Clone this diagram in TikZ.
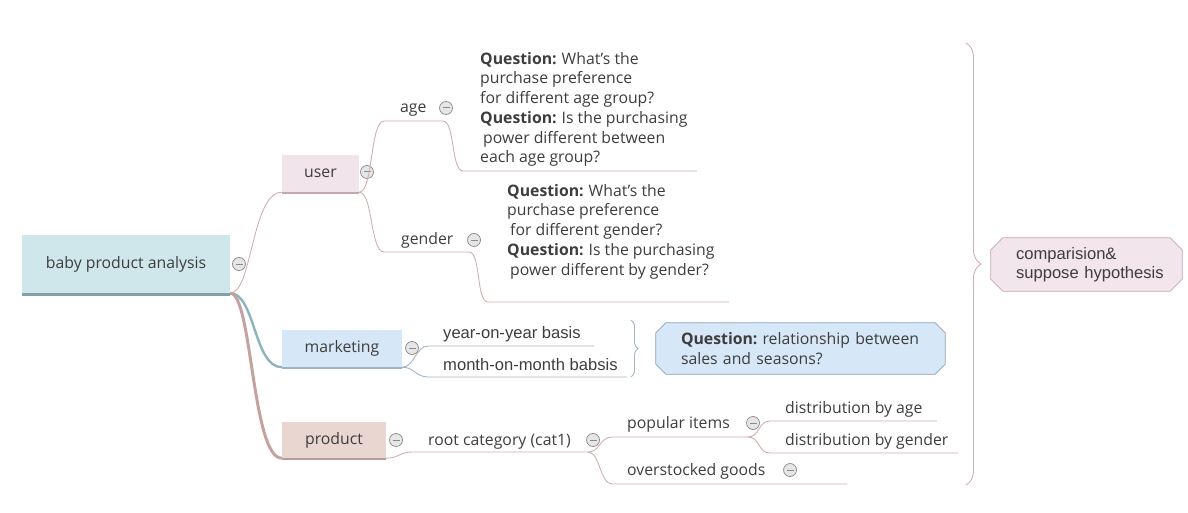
\documentclass[tikz,border=0pt]{standalone}
\usepackage{fontspec}
\setmainfont{Open Sans}
\newfontfamily\arialf{Liberation Sans}
\usetikzlibrary{decorations.pathreplacing,backgrounds}
\definecolor{tc}{HTML}{3D3D3D}
\definecolor{rootfill}{HTML}{CFE6EB}
\definecolor{rootline}{HTML}{7FA3A8}
\definecolor{userfill}{HTML}{F1E4EA}
\definecolor{userline}{HTML}{C2AAB0}
\definecolor{mktfill}{HTML}{D6E8F7}
\definecolor{mktline}{HTML}{9AB5C9}
\definecolor{prodfill}{HTML}{E9D6D1}
\definecolor{prodline}{HTML}{B99D99}
\definecolor{br}{HTML}{D0B0AE}
\definecolor{brd}{HTML}{C3A3A0}
\definecolor{mktbr}{HTML}{8FB3BC}
\definecolor{mu}{HTML}{A4B4C0}
\definecolor{qfill}{HTML}{D6E7F7}
\definecolor{qdraw}{HTML}{8CA2B3}
\definecolor{cfill}{HTML}{F3E5EC}
\definecolor{cdraw}{HTML}{C7A6AD}
\definecolor{icd}{HTML}{8A8A8A}
\definecolor{icf}{HTML}{E6E6E6}
\begin{document}
\begin{tikzpicture}[x=1pt,y=-1pt,
  txt/.style={inner sep=0pt, text=tc, font=\fontsize{15.8}{19.7}\selectfont},
  artxt/.style={inner sep=0pt, text=tc, font=\arialf\fontsize{16.6}{19.5}\selectfont},
  topicbox/.style={txt, minimum height=37pt},
  qtxt/.style={txt, align=left, anchor=north west},
  icon/.style={circle, draw=icd, fill=icf, minimum size=13pt, inner sep=0pt, line width=0.7pt,
    path picture={\draw[icd, line width=1pt] ([xshift=3pt]path picture bounding box.west) -- ([xshift=-3pt]path picture bounding box.east);}},
  branch/.style={draw=br, line width=0.9pt},
  mbranch/.style={draw=mu, line width=0.9pt},
  bracestyle/.style={draw=br, line width=0.9pt, decorate},
]
\useasboundingbox (0,0) rectangle (1188,513);

% main topics
\node[topicbox, fill=rootfill, minimum width=208pt, minimum height=58pt] (root) at (126,264) {baby product analysis};
\node[topicbox, fill=userfill, minimum width=77pt] (user) at (320.5,173.5) {user};
\node[topicbox, fill=mktfill, minimum width=120pt] (mkt) at (342,348.5) {marketing};
\node[topicbox, fill=prodfill, minimum width=104pt, minimum height=36pt] (prod) at (334,440) {product};
\draw[rootline, line width=3pt] ([yshift=-1.5pt]root.south west) -- ([yshift=-1.5pt]root.south east);
\draw[userline, line width=2pt] ([yshift=-1pt]user.south west) -- ([yshift=-1pt]user.south east);
\draw[mktline, line width=2pt] ([yshift=-1pt]mkt.south west) -- ([yshift=-1pt]mkt.south east);
\draw[prodline, line width=2pt] ([yshift=-1pt]prod.south west) -- ([yshift=-1pt]prod.south east);

% icons
\node[icon] (iroot) at (239,264) {};
\node[icon] (iuser) at (367,172) {};
\node[icon] (imkt) at (412,348) {};
\node[icon] (iprod) at (396,440) {};

% user subtree
\node[txt, anchor=base west] (age) at (400,113) {age};
\node[icon] (iage) at (446,108) {};
\node[qtxt] (qage) at (480,52) {\textbf{Question:}\hspace{5pt}What's the\\purchase preference\\for different age group?\\\textbf{Question:}\hspace{5pt}Is the purchasing\\\hspace*{3pt}power different between\\each age group?};
\node[txt, anchor=base west] (gender) at (401,244) {gender};
\node[icon] (igender) at (474,240) {};
\node[qtxt] (qgender) at (507,184) {\textbf{Question:}\hspace{5pt}What's the\\purchase preference\\\hspace*{3pt}for different gender?\\\textbf{Question:}\hspace{5pt}Is the purchasing\\\hspace*{3pt}power different by gender?};

\coordinate (ageL) at (384,121); \coordinate (ageR) at (443,121);
\coordinate (qageL) at (463,171); \coordinate (qageR) at (697,171);
\coordinate (genL) at (384,252); \coordinate (genR) at (469,252);
\coordinate (qgenL) at (488,302); \coordinate (qgenR) at (729,302);

% marketing subtree
\node[artxt, anchor=base west] (yoy) at (443,338) {year-on-year basis};
\node[artxt, anchor=base west] (mom) at (443,370) {month-on-month babsis};
\coordinate (yL) at (428,346); \coordinate (yR) at (594,346);
\coordinate (mL) at (428,377); \coordinate (mR) at (627,377);
\node[txt, align=left, text width=264pt, minimum height=51pt] (qmkt) at (813,348.5) {\textbf{Question:}\hspace{5pt}relationship between\\sales and seasons?};

% product subtree
\node[txt, anchor=base west] (rcat) at (428,445) {root category (cat1)};
\node[icon] (ircat) at (593,440) {};
\node[txt, anchor=base west] (pop) at (627,428) {popular items};
\node[icon] (ipop) at (753,423) {};
\node[txt, anchor=base west] (dage) at (785,413) {distribution by age};
\node[txt, anchor=base west] (dgen) at (785,445) {distribution by gender};
\node[txt, anchor=base west] (over) at (627,475) {overstocked goods};
\node[icon] (iover) at (790,470) {};
\coordinate (rcL) at (412,452); \coordinate (rcR) at (588,452);
\coordinate (popL) at (612,437); \coordinate (popR) at (748,437);
\coordinate (ovL) at (612,484); \coordinate (ovR) at (847,484);
\coordinate (daL) at (770,421); \coordinate (daR) at (937,421);
\coordinate (dgL) at (770,453); \coordinate (dgR) at (958,453);

% summary node
\node[artxt, align=left, text width=166pt, minimum height=53pt] (comp) at (1099,264.5) {comparision\&\\suppose hypothesis};

% chamfered outlines behind texts
\begin{pgfonlayer}{background}
\draw[qdraw, fill=qfill, line width=0.8pt]
  ([xshift=-15pt]qmkt.north west) -- ([xshift=-10pt]qmkt.north east) -- ([yshift=-10pt]qmkt.north east)
  -- ([yshift=10pt]qmkt.south east) -- ([xshift=-10pt]qmkt.south east) -- ([xshift=-15pt]qmkt.south west)
  -- ([xshift=-25pt,yshift=10pt]qmkt.south west) -- ([xshift=-25pt,yshift=-10pt]qmkt.north west) -- cycle;
\draw[cdraw, fill=cfill, line width=0.8pt]
  ([xshift=-13pt]comp.north west) -- ([xshift=-12pt]comp.north east) -- ([yshift=-12pt]comp.north east)
  -- ([yshift=12pt]comp.south east) -- ([xshift=-12pt]comp.south east) -- ([xshift=-13pt]comp.south west)
  -- ([xshift=-25pt,yshift=12pt]comp.south west) -- ([xshift=-25pt,yshift=-12pt]comp.north west) -- cycle;
\end{pgfonlayer}

% main branches
\draw[branch] (root.south east) .. controls +(22,0) and +(-30,0) .. (user.south west);
\draw[mktbr, line width=2.4pt] (root.south east) .. controls +(25,0) and +(-28,0) .. (mkt.south west);
\draw[brd, line width=3pt] (root.south east) .. controls +(22,0) and +(-30,0) .. (prod.south west);

% user branches
\draw[branch] (user.south east) .. controls +(14,0) and +(-14,0) .. (ageL) -- (ageR)
  .. controls +(12,0) and +(-12,0) .. (qageL) -- (qageR);
\draw[branch] (user.south east) .. controls +(14,0) and +(-14,0) .. (genL) -- (genR)
  .. controls +(12,0) and +(-12,0) .. (qgenL) -- (qgenR);

% marketing branches
\draw[mbranch] (mkt.south east) .. controls +(12,0) and +(-12,0) .. (yL) -- (yR);
\draw[mbranch] (mkt.south east) .. controls +(12,0) and +(-12,0) .. (mL) -- (mR);
\draw[bracestyle, draw=mu, decoration={brace, amplitude=7pt}] (631,320) -- (631,377);

% product branches
\draw[branch] (prod.south east) .. controls +(12,0) and +(-12,0) .. (rcL) -- (rcR);
\draw[branch] (rcR) .. controls +(12,0) and +(-12,0) .. (popL) -- (popR);
\draw[branch] (rcR) .. controls +(12,0) and +(-12,0) .. (ovL) -- (ovR);
\draw[branch] (popR) .. controls +(12,0) and +(-12,0) .. (daL) -- (daR);
\draw[branch] (popR) .. controls +(12,0) and +(-12,0) .. (dgL) -- (dgR);

% big summary brace
\draw[bracestyle, decoration={brace, amplitude=15pt}] (966,43) -- (966,485);
\end{tikzpicture}
\end{document}
